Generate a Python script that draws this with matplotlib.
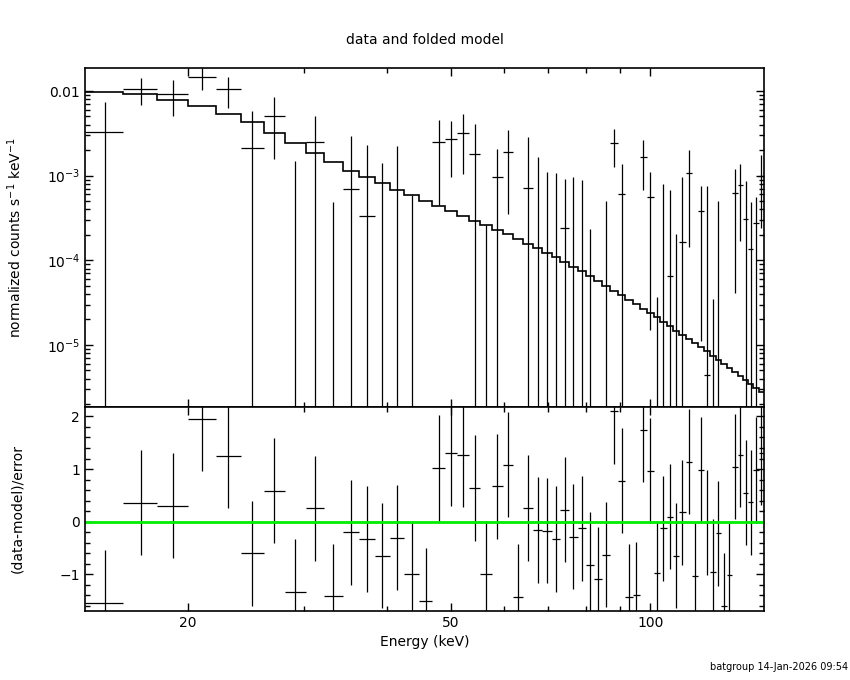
import numpy as np
import matplotlib
matplotlib.use("Agg")
import matplotlib.pyplot as plt
from matplotlib.ticker import FixedLocator, NullFormatter, LogLocator, MultipleLocator

# Energy bin edges (keV)
edges = [14.0, 16.0, 18.0, 20.0, 22.04, 24.05, 26.05, 28.03, 30.15, 32.10,
         34.29, 36.33, 38.33, 40.43, 42.49, 44.67, 46.83, 48.95, 51.09, 53.21,
         55.34, 57.64, 59.83, 62.00, 64.19, 66.40, 68.65, 70.93, 73.08, 75.33,
         77.64, 79.84, 82.26, 84.49, 86.88, 89.34, 91.63, 93.96, 96.38, 98.75,
         101.08, 103.32, 105.75, 108.09, 110.49, 112.97, 115.48, 117.91, 120.27, 122.81,
         125.40, 127.87, 130.29, 132.86, 135.38, 137.90, 140.46, 142.93, 145.65, 148.20]

# folded model (counts/s/keV)
model = [9.65e-3, 9.29e-3, 7.83e-3, 6.60e-3, 5.40e-3, 4.28e-3, 3.22e-3, 2.42e-3, 1.87e-3, 1.44e-3,
         1.14e-3, 9.60e-4, 8.16e-4, 6.86e-4, 5.89e-4, 5.05e-4, 4.41e-4, 3.85e-4, 3.36e-4, 2.91e-4,
         2.58e-4, 2.28e-4, 2.02e-4, 1.78e-4, 1.57e-4, 1.40e-4, 1.23e-4, 1.09e-4, 9.55e-5, 8.41e-5,
         7.40e-5, 6.46e-5, 5.70e-5, 4.98e-5, 4.38e-5, 3.86e-5, 3.43e-5, 3.05e-5, 2.69e-5, 2.39e-5,
         2.12e-5, 1.87e-5, 1.66e-5, 1.48e-5, 1.32e-5, 1.18e-5, 1.05e-5, 9.50e-6, 8.43e-6, 7.50e-6,
         6.73e-6, 5.98e-6, 5.37e-6, 4.82e-6, 4.27e-6, 3.84e-6, 3.48e-6, 3.09e-6, 2.77e-6]

# observed rate and 1-sigma error
rate = [3.29e-3, 1.047e-2, 9.22e-3, 1.463e-2, 1.047e-2, 2.11e-3, 5.03e-3, -1.22e-3, 2.48e-3, -1.80e-3,
        6.99e-4, 3.33e-4, -3.14e-4, 0.0, -1.41e-3, -2.5e-3, 2.50e-3, 2.69e-3, 3.20e-3, 1.79e-3,
        -1.94e-3, 9.60e-4, 1.91e-3, -1.97e-3, 7.18e-4, -1.48e-4, -7.9e-5, -3.68e-4, 2.40e-4, -2.70e-4,
        -5.1e-5, -7.16e-4, -1.05e-3, -7.24e-4, 2.42e-3, 6.05e-4, -1.40e-3, -1.36e-3, 1.65e-3, 5.62e-4,
        -7.63e-4, -1.01e-4, 6.46e-5, -3.40e-4, 1.64e-4, 1.08e-3, -7.1e-4, 3.85e-4, 4.44e-6, -6.65e-4,
        -1.30e-4, -9.54e-4, -6.07e-4, 6.22e-4, 7.73e-4, 3.09e-4, 1.36e-4, 2.75e-4, 1.00e-3]
rate_err = [4.13e-3, 3.64e-3, 4.15e-3, 4.27e-3, 4.16e-3, 3.70e-3, 3.47e-3, 2.71e-3, 2.59e-3, 2.29e-3,
            2.25e-3, 1.98e-3, 1.73e-3, 2.25e-3, 2.0e-3, 2.0e-3, 2.05e-3, 1.73e-3, 2.16e-3, 2.29e-3,
            2.2e-3, 1.09e-3, 1.56e-3, 1.5e-3, 2.13e-3, 1.80e-3, 1.19e-3, 1.45e-3, 6.77e-4, 1.24e-3,
            9.43e-4, 9.52e-4, 1.0e-3, 1.23e-3, 1.15e-3, 7.73e-4, 1.0e-3, 1.0e-3, 9.69e-4, 5.47e-4,
            8.0e-4, 9.01e-4, 6.15e-4, 5.46e-4, 7.96e-4, 9.36e-4, 7.0e-4, 3.74e-4, 7.54e-4, 7.0e-4,
            6.35e-4, 6.0e-4, 6.0e-4, 5.81e-4, 6.05e-4, 5.59e-4, 3.55e-4, 2.87e-4, 7.6e-4]

# (data-model)/error
resid = [-1.54, 0.36, 0.30, 1.96, 1.25, -0.60, 0.59, -1.34, 0.25, -1.42,
         -0.20, -0.33, -0.65, -0.31, -1.00, -1.51, 1.02, 1.30, 1.27, 0.64,
         -0.99, 0.67, 1.08, -1.43, 0.26, -0.16, -0.17, -0.33, 0.23, -0.29,
         -0.13, -0.82, -1.10, -0.63, 2.10, 0.78, -1.43, -1.39, 1.75, 0.97,
         -0.98, -0.13, 0.09, -0.65, 0.18, 1.14, -1.03, 0.98, -0.01, -0.96,
         -0.22, -1.60, -1.02, 1.04, 1.27, 0.55, 0.37, 0.98, 1.31]

e = np.array(edges)
elo, ehi = e[:-1], e[1:]
ecen = 0.5 * (elo + ehi)
m = np.array(model)
d = np.array(rate)
s = np.array(rate_err)
r = np.array(resid)

XMIN, XMAX = 14.0, 148.4
YMIN, YMAX = 1.85e-6, 1.87e-2
LW = 0.9

fig = plt.figure(figsize=(8.5, 6.8), dpi=100)
ax1 = fig.add_axes([0.1, 0.4015, 0.7988, 0.4985])
ax2 = fig.add_axes([0.1, 0.1015, 0.7988, 0.30], sharex=ax1)

# --- top: data and folded model
ax1.set_xscale("log")
ax1.set_yscale("log")
pos = d > 0
ax1.hlines(d[pos], elo[pos], ehi[pos], color="black", lw=LW)
hi = d + s
lo = np.where(d - s > 0, d - s, 1e-9)
vis = hi > 0
ax1.vlines(ecen[vis], lo[vis], hi[vis], color="black", lw=LW)
ax1.stairs(m, e, baseline=None, color="black", lw=1.2)
ax1.set_xlim(XMIN, XMAX)
ax1.set_ylim(YMIN, YMAX)
ax1.set_ylabel("normalized counts s$^{-1}$ keV$^{-1}$", fontsize=10)
ax1.yaxis.set_major_locator(FixedLocator([1e-5, 1e-4, 1e-3, 1e-2]))
ax1.yaxis.set_minor_locator(LogLocator(base=10, subs=np.arange(2, 10)))
ax1.set_yticklabels(["10$^{-5}$", "10$^{-4}$", "10$^{-3}$", "0.01"])
ax1.set_title("data and folded model", fontsize=10, pad=17)

# --- bottom: residuals
ax2.hlines(r, elo, ehi, color="black", lw=LW)
ax2.vlines(ecen, r - 1, r + 1, color="black", lw=LW)
ax2.axhline(0, color="#00ee00", lw=2)
ax2.set_ylim(-1.70, 2.18)
ax2.yaxis.set_major_locator(FixedLocator([-1, 0, 1, 2]))
ax2.yaxis.set_minor_locator(MultipleLocator(0.2))
ax2.set_yticklabels(["\u22121", "0", "1", "2"])
ax2.set_ylabel("(data-model)/error", fontsize=10)
ax2.set_xlabel("Energy (keV)", fontsize=10)

for ax in (ax1, ax2):
    ax.xaxis.set_major_locator(FixedLocator([20, 50, 100]))
    ax.xaxis.set_minor_locator(FixedLocator([30, 40, 60, 70, 80, 90]))
    ax.xaxis.set_minor_formatter(NullFormatter())
    ax.tick_params(which="both", direction="in", top=True, right=True, labelsize=10, width=1)
    ax.tick_params(which="major", length=6)
    ax.tick_params(which="minor", length=3.5)
    for sp in ax.spines.values():
        sp.set_linewidth(1.2)

ax1.tick_params(axis="x", labelbottom=False)
ax2.set_xticklabels(["20", "50", "100"])
ax1.yaxis.set_label_coords(-0.09, 0.5)
ax2.yaxis.set_label_coords(-0.09, 0.5)

fig.text(0.998, 0.012, "batgroup 14-Jan-2026 09:54", ha="right", va="bottom", fontsize=7)

fig.savefig("out.png", dpi=100)
